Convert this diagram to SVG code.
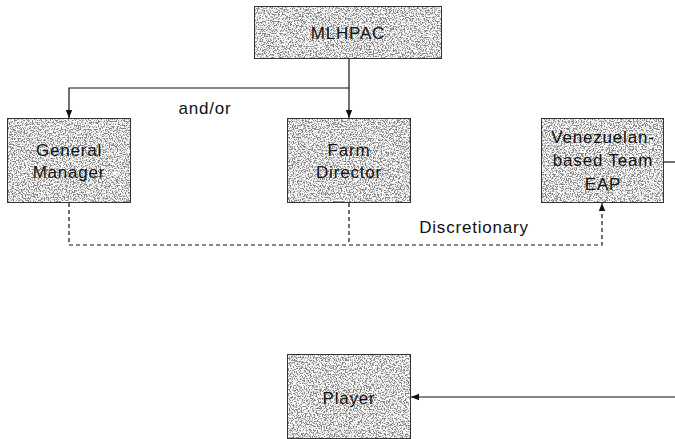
<svg xmlns="http://www.w3.org/2000/svg" width="675" height="439" viewBox="0 0 675 439">
<style>
.fill{fill:#000;filter:url(#stip)}
.edge{fill:none;stroke:#333;stroke-width:1}
.lbl{font-family:"Liberation Sans",Arial,sans-serif;font-size:17px;letter-spacing:0.8px;fill:#111;text-anchor:middle}
.ln{fill:none;stroke:#111;stroke-width:1.2}
.dash{fill:none;stroke:#111;stroke-width:1.2;stroke-dasharray:4,3}
</style>
<defs>
<filter id="stip" x="0" y="0" width="1" height="1" color-interpolation-filters="sRGB">
<feTurbulence type="fractalNoise" baseFrequency="0.75" numOctaves="2" seed="7" result="t"/>
<feColorMatrix in="t" type="matrix" values="0 0 0 0 0.5  0 0 0 0 0.5  0 0 0 0 0.5  6 0 0 0 -2.75" result="d"/>
<feFlood flood-color="#ffffff" result="w"/>
<feMerge result="m"><feMergeNode in="w"/><feMergeNode in="d"/></feMerge>
<feComposite in="m" in2="SourceGraphic" operator="in"/>
</filter>
<marker id="arr" viewBox="0 0 8 8" refX="8" refY="4" markerWidth="8" markerHeight="8" markerUnits="userSpaceOnUse" orient="auto">
<path d="M0,0.8 L8,4 L0,7.2 z" fill="#111"/>
</marker>
</defs>

<g id="connectors">
<path class="ln" d="M349,59 V118" marker-end="url(#arr)"/>
<path class="ln" d="M349,88 H69 V118" marker-end="url(#arr)"/>
<path class="dash" d="M69,203 V245 H602 V203" marker-end="url(#arr)"/>
<path class="dash" d="M349,203 V245"/>
<path class="ln" d="M664,162 H675"/>
<path class="ln" d="M675,397 H411" marker-end="url(#arr)"/>
<text class="lbl" x="205" y="114">and/or</text>
<text class="lbl" x="474" y="233">Discretionary</text>
</g>

<g id="mlhpac">
<rect class="fill" x="254" y="6" width="188" height="53"/>
<rect class="edge" x="254.5" y="6.5" width="187" height="52"/>
<text class="lbl" x="348" y="39">MLHPAC</text>
</g>

<g id="general-manager">
<rect class="fill" x="7" y="118" width="124" height="85"/>
<rect class="edge" x="7.5" y="118.5" width="123" height="84"/>
<text class="lbl" x="69" y="156">General</text>
<text class="lbl" x="69" y="178">Manager</text>
</g>

<g id="farm-director">
<rect class="fill" x="287" y="118" width="124" height="85"/>
<rect class="edge" x="287.5" y="118.5" width="123" height="84"/>
<text class="lbl" x="349" y="156">Farm</text>
<text class="lbl" x="349" y="178">Director</text>
</g>

<g id="venezuelan-eap">
<rect class="fill" x="541" y="118" width="123" height="85"/>
<rect class="edge" x="541.5" y="118.5" width="122" height="84"/>
<text class="lbl" x="603" y="143">Venezuelan-</text>
<text class="lbl" x="603" y="166">based Team</text>
<text class="lbl" x="603" y="190">EAP</text>
</g>

<g id="player">
<rect class="fill" x="287" y="354" width="124" height="85"/>
<rect class="edge" x="287.5" y="354.5" width="123" height="84"/>
<text class="lbl" x="349" y="404">Player</text>
</g>
</svg>
